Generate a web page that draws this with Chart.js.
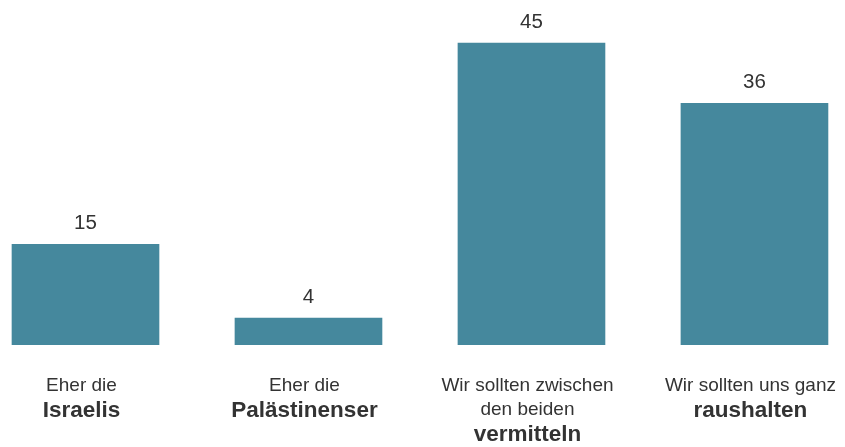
<!DOCTYPE html>
<html>
<head>
<meta charset="utf-8">
<script src="https://cdn.jsdelivr.net/npm/chart.js@4"></script>
<style>
  html, body { margin: 0; padding: 0; background: #fff; }
  #wrap { width: 845px; height: 447px; }
</style>
</head>
<body>
<div id="wrap"><canvas id="barChart" width="845" height="447"></canvas></div>
<script>
// data
const categoryLines = [
    ["Eher die"],
    ["Eher die"],
    ["Wir sollten zwischen", "den beiden"],
    ["Wir sollten uns ganz"]
];
const categoryBold = ["Israelis", "Palästinenser", "vermitteln", "raushalten"];
const values = [15, 4, 45, 36];
const valueLabels = ["15", "4", "45", "36"];

const BAR_COLOR = '#45889d';
const TEXT_COLOR = '#333333';
const FONT = '"Liberation Sans", Arial, Helvetica, sans-serif';

// draws value labels above bars and the two-style category labels below
const labelPlugin = {
    id: 'labelPlugin',
    afterDatasetsDraw(chart) {
        const ctx = chart.ctx;
        const meta = chart.getDatasetMeta(0);
        const xScale = chart.scales.x;
        ctx.save();
        ctx.fillStyle = TEXT_COLOR;
        ctx.textAlign = 'center';
        ctx.textBaseline = 'alphabetic';

        meta.data.forEach((bar, i) => {
            ctx.font = '20.5px ' + FONT;
            ctx.fillText(valueLabels[i], bar.x, bar.y - 15);
        });

        values.forEach((v, i) => {
            let cx = xScale.getPixelForValue(i) - 4;
            let y = 391;
            ctx.font = '19px ' + FONT;
            categoryLines[i].forEach((line, k) => {
                ctx.fillText(line, cx, y + k * 24);
            });
            let boldY = y + (categoryLines[i].length - 1) * 24 + 26;
            ctx.font = 'bold 22.5px ' + FONT;
            ctx.fillText(categoryBold[i], cx, boldY);
        });
        ctx.restore();
    }
};

let canvas = document.querySelector('#barChart');
let chart = new Chart(canvas, {
    type: 'bar',
    data: {
        datasets: [{
            data: values.map((v, i) => ({x: i, y: v})),
            backgroundColor: BAR_COLOR,
            borderWidth: 0,
            barThickness: 147
        }]
    },
    options: {
        responsive: false,
        animation: false,
        layout: { padding: { top: 0, bottom: 102, left: 0, right: 0 } },
        plugins: {
            legend: { display: false },
            tooltip: { enabled: false }
        },
        scales: {
            x: {
                type: 'linear',
                display: false,
                offset: false,
                min: -0.3834,
                max: 3.406
            },
            y: {
                display: false,
                min: 0,
                max: 51.4
            }
        }
    },
    plugins: [labelPlugin]
});
</script>
</body>
</html>
